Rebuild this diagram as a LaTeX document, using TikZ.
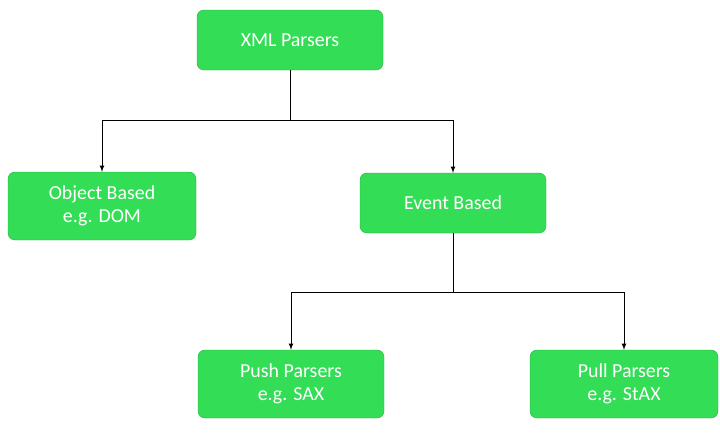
\documentclass[tikz,border=0pt]{standalone}
\usepackage{fontspec}
\setmainfont{Carlito}
\definecolor{boxgreen}{HTML}{33DD55}
\begin{document}
\begin{tikzpicture}[x=0.03cm,y=-0.03cm,>=latex]
    \tikzset{
        parser/.style={draw=boxgreen!80!black,fill=boxgreen,rounded corners=6pt,
            text=white,align=center,minimum width=186*0.03cm,
            font=\fontsize{17}{20}\selectfont},
        link/.style={->,thick}
    }
    \useasboundingbox (0,0) rectangle (720,439);

    % the boxes
    \node[parser,minimum height=60*0.03cm] (xml) at (290,40) {XML Parsers};
    \node[parser,minimum height=68*0.03cm,minimum width=188*0.03cm] (obj) at (102,206) {Object Based\\e.g. DOM};
    \node[parser,minimum height=60*0.03cm] (event) at (453,203) {Event Based};
    \node[parser,minimum height=68*0.03cm] (push) at (291,384) {Push Parsers\\e.g. SAX};
    \node[parser,minimum height=68*0.03cm,minimum width=188*0.03cm] (pull) at (624,384) {Pull Parsers\\e.g. StAX};

    % the branch points
    \coordinate (top) at (290,120);
    \coordinate (mid) at (453,292);

    % the connectors
    \draw[thick] (xml.south) -- (top);
    \draw[link] (top) -| (obj.north);
    \draw[link] (top) -| (event.north);
    \draw[thick] (event.south) -- (mid);
    \draw[link] (mid) -| (push.north);
    \draw[link] (mid) -| (pull.north);
\end{tikzpicture}
\end{document}
